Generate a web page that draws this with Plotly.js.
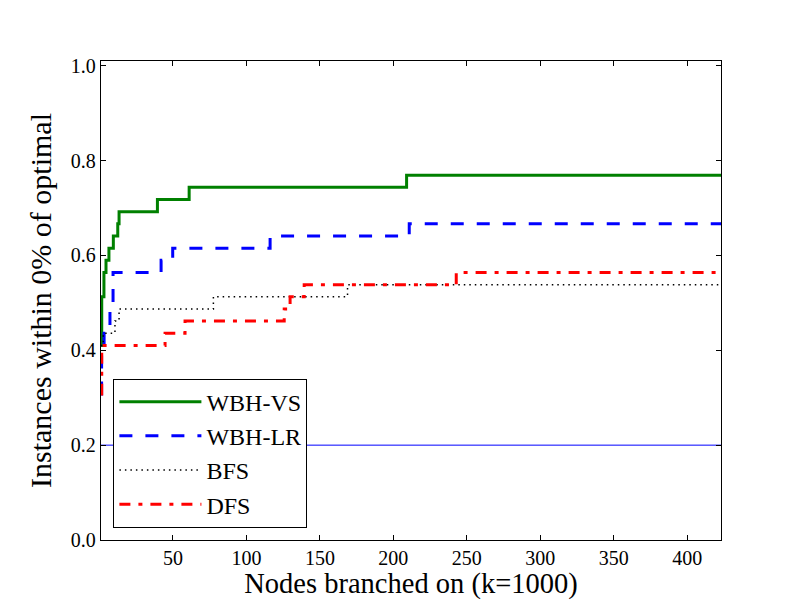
<!DOCTYPE html>
<html>
<head>
<meta charset="utf-8">
<script src="https://cdn.plot.ly/plotly-3.0.1.min.js"></script>
<style>
  html, body { margin: 0; padding: 0; background: #fff; }
  #chart { width: 800px; height: 600px; }
</style>
</head>
<body>
<div id="chart"></div>
<script>
// step series: x = node count where the value starts, y = fraction of instances
const vsX = [1, 1.5, 3.0, 4.4, 6.4, 9.4, 12.4, 13.3, 39.4, 61, 209, 423];
const vsY = [0.410, 0.513, 0.564, 0.590, 0.615, 0.641, 0.667, 0.692, 0.718, 0.744, 0.769, 0.769];

const lrX = [1, 1.4, 3.1, 7.1, 9.2, 41.9, 49.8, 116.1, 210.8, 423];
const lrY = [0.308, 0.410, 0.436, 0.487, 0.564, 0.590, 0.615, 0.641, 0.667, 0.667];

const bfsX = [1, 2.5, 10.5, 13.3, 77.5, 168.8, 423];
const bfsY = [0.410, 0.436, 0.462, 0.487, 0.513, 0.538, 0.538];

const dfsX = [1, 1.5, 44.6, 58.2, 125.7, 129.7, 139.3, 242.8, 423];
const dfsY = [0.308, 0.410, 0.436, 0.462, 0.487, 0.513, 0.538, 0.564, 0.564];

const baseline = 0.2;

const xRange = [1, 423];
const yRange = [0, 1.01];
const yTicks = [0.0, 0.2, 0.4, 0.6, 0.8, 1.0];
const xTicks = [50, 100, 150, 200, 250, 300, 350, 400];

const font = 'Liberation Serif, DejaVu Serif, serif';

function stepTrace(x, y, name, color, width, dash) {
    return {
        x: x, y: y, name: name, type: 'scatter', mode: 'lines',
        line: {shape: 'hv', color: color, width: width, dash: dash},
        legendgroup: name, hoverinfo: 'none'
    };
}

const traces = [
    stepTrace(vsX, vsY, 'WBH-VS', '#008000', 3, 'solid'),
    stepTrace(lrX, lrY, 'WBH-LR', '#0000ff', 3, '13px,13px'),
    stepTrace(bfsX, bfsY, 'BFS', '#000000', 1.5, '1.5px,4px'),
    stepTrace(dfsX, dfsY, 'DFS', '#ff0000', 3, '11px,8px,4px,8px')
];

const axisCommon = {
    showline: true, linecolor: '#000', linewidth: 1.2, mirror: 'ticks',
    ticks: 'inside', ticklen: 5, tickwidth: 1, tickcolor: '#000',
    showgrid: false, zeroline: false,
    tickfont: {family: font, size: 20, color: '#000'}
};

const layout = {
    width: 800, height: 600,
    paper_bgcolor: '#fff', plot_bgcolor: '#fff',
    margin: {l: 101, r: 79, t: 61, b: 60},
    font: {family: font, color: '#000'},
    xaxis: Object.assign({}, axisCommon, {
        range: xRange, tickvals: xTicks, ticktext: xTicks.map(String),
        title: {text: 'Nodes branched on (k=1000)', font: {family: font, size: 28.5}, standoff: 4}
    }),
    yaxis: Object.assign({}, axisCommon, {
        range: yRange, tickvals: yTicks, ticktext: yTicks.map(v => v.toFixed(1)),
        title: {text: 'Instances within 0% of optimal', font: {family: font, size: 30}, standoff: 10}
    }),
    shapes: [{
        type: 'line', xref: 'paper', yref: 'y', x0: 0, x1: 1, y0: baseline, y1: baseline,
        line: {color: '#0000ff', width: 1}, layer: 'below'
    }],
    legend: {
        x: 0.02, y: 0.026, xanchor: 'left', yanchor: 'bottom',
        bgcolor: '#fff', bordercolor: '#000', borderwidth: 1,
        font: {family: font, size: 24, color: '#000'},
        itemwidth: 82, tracegroupgap: 4, traceorder: 'normal'
    },
    showlegend: true
};

Plotly.newPlot('chart', traces, layout, {displayModeBar: false, staticPlot: true});
</script>
</body>
</html>
